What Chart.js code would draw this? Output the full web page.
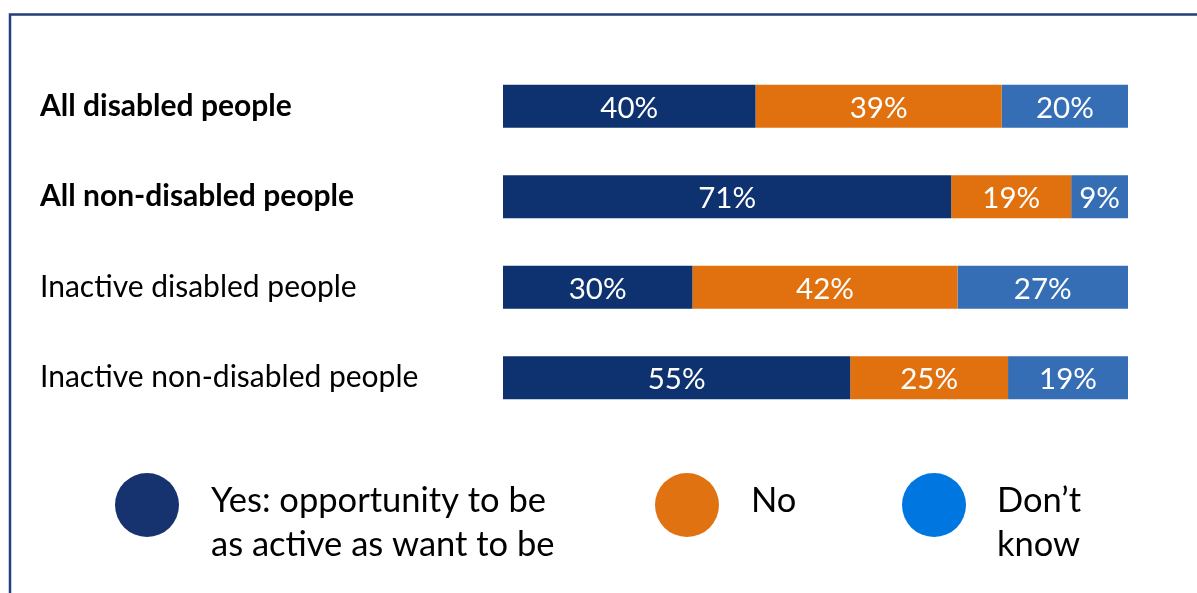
<!DOCTYPE html>
<html>
<head>
<meta charset="utf-8">
<title>Opportunity to be as active as wanted</title>
<script src="https://cdn.jsdelivr.net/npm/chart.js@4.4.0/dist/chart.umd.min.js"></script>
<style>
  html, body { margin: 0; padding: 0; background: #ffffff; }
  #wrap { position: relative; width: 1197px; height: 593px; }
  canvas { display: block; }
</style>
</head>
<body>
<div id="wrap"><canvas id="chart" width="1197" height="593"></canvas></div>
<script>
// Survey groups (rows) and which of them are emphasised
const categories = [
  'All disabled people',
  'All non-disabled people',
  'Inactive disabled people',
  'Inactive non-disabled people'
];
const boldRows = [true, true, false, false];

// Share of answers per group, in percent
const yesValues = [40, 71, 30, 55];
const noValues = [39, 19, 42, 25];
const dontKnowValues = [20, 9, 27, 19];

// Legend text, one entry per answer, split into lines
const seriesNames = [
  ['Yes: opportunity to be', 'as active as want to be'],
  ['No'],
  ['Don\u2019t', 'know']
];

// Colours for bars and legend markers
const barColors = ['#0E3270', '#E1700E', '#356EB5'];
const legendColors = ['#17336F', '#E07212', '#0077E0'];

const FONT = 'Lato, "Open Sans", sans-serif';

// Each row's answers add up to the same total, used as the axis end
const rowTotal = Math.max(...yesValues.map((v, i) => v + noValues[i] + dontKnowValues[i]));

// Frame around the figure
const framePlugin = {
  id: 'frame',
  beforeDraw(chart) {
    const ctx = chart.ctx;
    ctx.save();
    ctx.strokeStyle = '#203F7B';
    ctx.lineWidth = 2.5;
    ctx.beginPath();
    ctx.moveTo(10, 594);
    ctx.lineTo(10, 14.5);
    ctx.lineTo(1198, 14.5);
    ctx.stroke();
    ctx.restore();
  }
};

// Percentage labels centred in each bar segment
const segmentLabels = {
  id: 'segmentLabels',
  afterDatasetsDraw(chart) {
    const ctx = chart.ctx;
    ctx.save();
    ctx.fillStyle = '#ffffff';
    ctx.font = '29.5px ' + FONT;
    ctx.textAlign = 'center';
    ctx.textBaseline = 'middle';
    chart.data.datasets.forEach((ds, di) => {
      chart.getDatasetMeta(di).data.forEach((bar, i) => {
        const cx = (bar.base + bar.x) / 2;
        ctx.fillText(ds.data[i] + '%', cx, bar.y + 2);
      });
    });
    ctx.restore();
  }
};

// Legend with round markers and wrapped text below the bars
const roundLegend = {
  id: 'roundLegend',
  afterDraw(chart) {
    const ctx = chart.ctx;
    const items = [
      { cx: 147, tx: 211 },
      { cx: 687, tx: 751 },
      { cx: 934, tx: 997 }
    ];
    ctx.save();
    seriesNames.forEach((lines, i) => {
      const it = items[i];
      ctx.fillStyle = legendColors[i];
      ctx.beginPath();
      ctx.arc(it.cx, 505, 32, 0, Math.PI * 2);
      ctx.fill();
      ctx.fillStyle = '#000000';
      ctx.font = '34.5px ' + FONT;
      ctx.textAlign = 'left';
      ctx.textBaseline = 'alphabetic';
      lines.forEach((line, li) => {
        ctx.fillText(line, it.tx, 512 + li * 44);
      });
    });
    ctx.restore();
  }
};

new Chart(document.getElementById('chart'), {
  type: 'bar',
  data: {
    labels: categories,
    datasets: [
      { label: seriesNames[0].join(' '), data: yesValues, backgroundColor: barColors[0] },
      { label: seriesNames[1].join(' '), data: noValues, backgroundColor: barColors[1] },
      { label: seriesNames[2].join(' '), data: dontKnowValues, backgroundColor: barColors[2] }
    ]
  },
  options: {
    indexAxis: 'y',
    responsive: false,
    animation: false,
    events: [],
    layout: { padding: { left: 40, right: 69, top: 61, bottom: 170 } },
    datasets: { bar: { categoryPercentage: 1, barPercentage: 0.475, borderWidth: 0 } },
    scales: {
      x: {
        stacked: true,
        min: 0,
        max: rowTotal,
        display: false
      },
      y: {
        stacked: true,
        grid: { display: false },
        border: { display: false },
        afterFit(scale) { scale.width = 463; },
        ticks: {
          crossAlign: 'far',
          color: '#000000',
          font: (c) => ({
            family: FONT,
            size: 30,
            weight: boldRows[c.index] ? 'bold' : 'normal'
          })
        }
      }
    },
    plugins: {
      legend: { display: false },
      tooltip: { enabled: false }
    }
  },
  plugins: [framePlugin, segmentLabels, roundLegend]
});
</script>
</body>
</html>
